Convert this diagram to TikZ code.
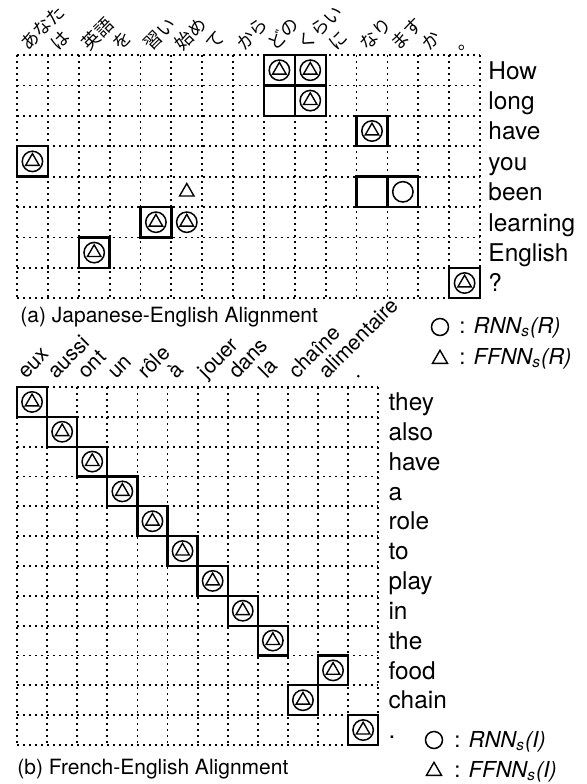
\documentclass[tikz,border=0pt]{standalone}
\usepackage{fontspec}
\setmainfont{TeX Gyre Heros}
\newfontfamily\jafont{Noto Sans CJK JP}
\usetikzlibrary{shapes.geometric}

\begin{document}
\begin{tikzpicture}[
    x=0.5pt, y=-0.5pt,       % one unit = one pixel of the layout
    gridline/.style={
        line width=0.9pt,
        dash pattern=on 0.9pt off 2.1pt
    },
    cellbox/.style={
        draw,
        line width=1.15pt
    },
    ringmark/.style={
        draw, circle,
        line width=0.75pt,
        inner sep=0pt,
        minimum size=10.2pt
    },
    trimark/.style={
        draw, regular polygon, regular polygon sides=3,
        line width=0.7pt,
        inner sep=0pt,
        minimum size=7.8pt
    },
    srcword/.style={rotate=45, anchor=base west, inner sep=0pt},
    tgtword/.style={anchor=base west, inner sep=0pt, font=\fontsize{12.2}{14}\selectfont},
    caption/.style={anchor=base west, inner sep=0pt, font=\fontsize{10.5}{12}\selectfont},
    keytext/.style={anchor=base west, inner sep=0pt, font=\fontsize{11}{13}\selectfont\itshape}
]

\useasboundingbox (0,0) rectangle (587,784);

%------------------------------------
% (a) JAPANESE-ENGLISH ALIGNMENT
%------------------------------------
\begin{scope}[shift={(17,55)}, x=15.435pt, y=-15.2pt]

% grid
\foreach \c in {0,...,15} \draw[gridline] (\c,0) -- (\c,8);
\foreach \r in {0,...,8} \draw[gridline] (0,\r) -- (15,\r);

% source words (columns)
\foreach \w [count=\c from 0] in {あなた,は,英語,を,習い,始め,て,から,どの,くらい,に,なり,ます,か,。}
    \node[srcword, font=\jafont\fontsize{9}{11}\selectfont] (ja-\c) at (\c+0.35,-0.1) {\w};

% target words (rows)
\foreach \w [count=\r from 0] in {How,long,have,you,been,learning,English,?}
    \node[tgtword] (ena-\r) at (15.26,\r+0.79) {\w};

% reference alignment
\foreach \c/\r in {8/0,9/0,8/1,9/1,11/2,0/3,11/4,12/4,4/5,2/6,14/7}
    \draw[cellbox] (\c,\r) rectangle ++(1,1);

% predicted links
\foreach \c/\r in {8/0,9/0,9/1,11/2,0/3,4/5,5/5,2/6,14/7} {
    \node[ringmark] (ringa-\c-\r) at (\c+0.5,\r+0.5) {};
    \node[trimark] (tria-\c-\r) at (\c+0.5,\r+0.5) {};
}
\node[ringmark] (ringa-12-4) at (12.5,4.5) {};
\node[trimark, minimum size=8.3pt] (tria-5-4) at (5.5,4.5) {};

\end{scope}

\node[caption] (cap-a) at (20,322) {(a) Japanese-English Alignment};

% key (a)
\node[ringmark, minimum size=8.5pt] (keya-ring) at (440,327) {};
\node[trimark, minimum size=8.7pt] (keya-tri) at (440,359) {};
\node[keytext] (keya-rnn) at (459,333) {{\upshape :} RNN\textsubscript{s}(R)};
\node[keytext] (keya-ffnn) at (459,364) {{\upshape :} FFNN\textsubscript{s}(R)};

%------------------------------------
% (b) FRENCH-ENGLISH ALIGNMENT
%------------------------------------
\begin{scope}[shift={(17,387)}, x=15.05pt, y=-14.915pt]

% grid
\foreach \c in {0,...,12} \draw[gridline] (\c,0) -- (\c,12);
\foreach \r in {0,...,12} \draw[gridline] (0,\r) -- (12,\r);

% source words (columns)
\foreach \w [count=\c from 0] in {eux,aussi,ont,un,rôle,à,jouer,dans,la,chaîne,alimentaire,.}
    \node[srcword, font=\fontsize{10.5}{12}\selectfont] (fr-\c) at (\c+0.3,-0.25) {\w};

% target words (rows)
\foreach \w [count=\r from 0] in {they,also,have,a,role,to,play,in,the,food,chain,.}
    \node[tgtword] (enb-\r) at (12.33,\r+0.79) {\w};

% reference alignment + predicted links
\foreach \c/\r in {0/0,1/1,2/2,3/3,4/4,5/5,6/6,7/7,8/8,10/9,9/10,11/11} {
    \draw[cellbox] (\c,\r) rectangle ++(1,1);
    \node[ringmark] (ringb-\c-\r) at (\c+0.5,\r+0.5) {};
    \node[trimark] (trib-\c-\r) at (\c+0.5,\r+0.5) {};
}

\end{scope}

\node[caption] (cap-b) at (17,774) {(b) French-English Alignment};

% key (b)
\node[ringmark, minimum size=8.5pt] (keyb-ring) at (434,740) {};
\node[trimark, minimum size=8.7pt] (keyb-tri) at (434,771) {};
\node[keytext] (keyb-rnn) at (454,747) {{\upshape :} RNN\textsubscript{s}(I)};
\node[keytext] (keyb-ffnn) at (454,777) {{\upshape :} FFNN\textsubscript{s}(I)};

\end{tikzpicture}
\end{document}
